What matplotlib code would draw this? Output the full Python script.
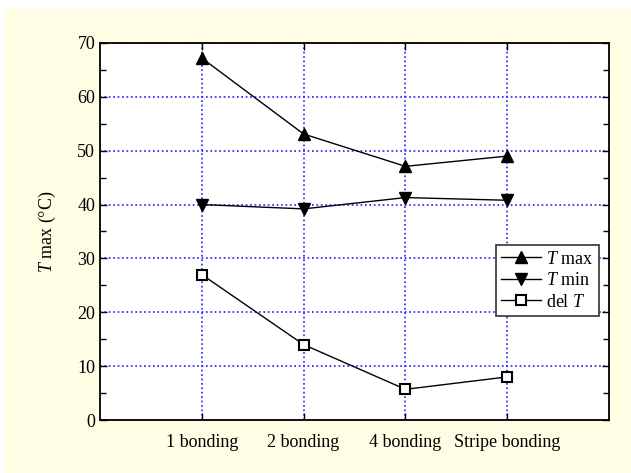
import matplotlib
matplotlib.use("Agg")
import matplotlib.pyplot as plt
from matplotlib.patches import Rectangle
from matplotlib.ticker import MultipleLocator

plt.rcParams["font.family"] = "Liberation Serif"
plt.rcParams["mathtext.fontset"] = "custom"
plt.rcParams["mathtext.rm"] = "Liberation Serif"
plt.rcParams["mathtext.it"] = "Liberation Serif:italic"

categories = ["1 bonding", "2 bonding", "4 bonding", "Stripe bonding"]
t_max = [67.2, 53.1, 47.1, 49.0]
t_min = [40.0, 39.2, 41.3, 40.8]
del_t = [27.0, 14.0, 5.7, 8.0]

x = list(range(1, len(categories) + 1))

fig = plt.figure(figsize=(6.31, 4.73), dpi=100, facecolor="white")
# light yellow panel behind the plot
fig.patches.append(Rectangle((4 / 631, 0), 1, (473 - 9) / 473, transform=fig.transFigure,
                             facecolor="#fffee4", edgecolor="none", zorder=-1))

ax = fig.add_axes([100 / 631, 53 / 473, 509 / 631, 377 / 473])
ax.set_facecolor("white")

ax.plot(x, t_max, color="black", lw=1, marker="^", ms=8.5, mfc="black", mec="black",
        label=r"$\it{T}$ max", clip_on=False, zorder=3)
ax.plot(x, t_min, color="black", lw=1, marker="v", ms=8.5, mfc="black", mec="black",
        label=r"$\it{T}$ min", clip_on=False, zorder=3)
ax.plot(x, del_t, color="black", lw=1, marker="s", ms=6.5, mfc="white", mec="black",
        mew=1.5, label=r"del $\it{T}$", zorder=3)

ax.set_xlim(0, 5)
ax.set_ylim(0, 70)
ax.set_xticks(x)
ax.set_xticklabels(categories)
ax.yaxis.set_major_locator(MultipleLocator(10))
ax.yaxis.set_minor_locator(MultipleLocator(5))

ax.grid(True, which="major", color="#2020ff", linestyle=":", linewidth=1.2)
ax.tick_params(which="both", direction="in", top=True, right=True, labelsize=13,
               width=1, colors="black")
ax.tick_params(which="major", length=5)
ax.tick_params(which="minor", length=4)
ax.tick_params(axis="x", pad=10)
for s in ax.spines.values():
    s.set_linewidth(1.3)

ax.set_ylabel(r"$\it{T}$ max (°C)", fontsize=13, labelpad=14)

leg = ax.legend(loc="lower right", bbox_to_anchor=(0.98, 0.276), borderaxespad=0,
                fontsize=13, fancybox=False, framealpha=1, edgecolor="#333333",
                handlelength=2.2, handletextpad=0.3, borderpad=0.3, labelspacing=0.25)
leg.get_frame().set_linewidth(1.2)

fig.savefig("out.png", dpi=100, facecolor=fig.get_facecolor())
